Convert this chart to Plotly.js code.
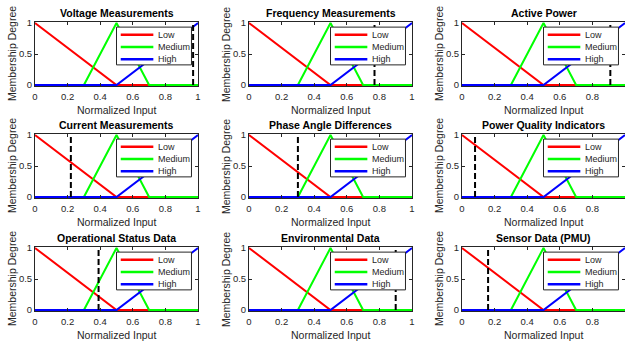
<!DOCTYPE html>
<html><head><meta charset="utf-8">
<script src="https://cdn.plot.ly/plotly-3.0.1.min.js"></script>
<style>html,body{margin:0;padding:0;background:#fff;overflow:hidden}#chart{width:625px;height:343px;}</style>
</head><body><div id="chart"></div>
<script>
// ---- data ----
const panelTitles = ['Voltage Measurements','Frequency Measurements','Active Power',
  'Current Measurements','Phase Angle Differences','Power Quality Indicators',
  'Operational Status Data','Environmental Data','Sensor Data (PMU)'];
const inputValues = [0.97, 0.77, 0.91, 0.22, 0.30, 0.08, 0.39, 0.90, 0.16];
const lowX = [0, 0.5, 1],            lowY = [1, 0, 0];
const medX = [0, 0.3, 0.5, 0.7, 1],  medY = [0, 0, 1, 0, 0];
const highX = [0, 0.5, 1],           highY = [0, 0, 1];
const setNames = ['Low', 'Medium', 'High'];
const xTickVals = [0, 0.2, 0.4, 0.6, 0.8, 1];
const xTickText = ['0', '0.2', '0.4', '0.6', '0.8', '1'];
const yTickVals = [0, 0.5, 1];
const yTickText = ['0', '0.5', '1'];
const xAxisLabel = 'Normalized Input';
const yAxisLabel = 'Membership Degree';

// ---- styling / layout ----
const W = 625, H = 343;
const colLeft = [35, 249, 462], plotW = 163;
const rowTop = [22, 134, 247], plotH = 64;
const colors = ['#ff0000', '#00ff00', '#0000ff'];
const font = 'Liberation Sans, Arial, Helvetica, sans-serif';
const axisCol = '#262626';

const data = [], shapes = [], annotations = [];
const layout = {
  width: W, height: H, margin: {l: 0, r: 0, t: 0, b: 0},
  paper_bgcolor: '#fff', plot_bgcolor: '#fff', showlegend: false,
  font: {family: font, size: 9.5, color: axisCol}
};
const seriesX = [lowX, medX, highX], seriesY = [lowY, medY, highY];

panelTitles.forEach((title, i) => {
  const r = Math.floor(i / 3), c = i % 3;
  const n = i === 0 ? '' : String(i + 1);
  const xa = 'x' + n, ya = 'y' + n;
  layout['xaxis' + n] = {
    domain: [colLeft[c] / W, Math.min(1, (colLeft[c] + plotW) / W)],
    anchor: ya, range: [0, 1], tickvals: xTickVals, ticktext: xTickText,
    ticks: 'inside', ticklen: 3, tickcolor: axisCol, showline: true, linecolor: axisCol,
    linewidth: 1, mirror: 'ticks', showgrid: false, zeroline: false, ticklabelstandoff: 2,
    tickfont: {size: 9.5, color: axisCol, family: font}, fixedrange: true
  };
  layout['yaxis' + n] = {
    domain: [1 - (rowTop[r] + plotH) / H, 1 - rowTop[r] / H],
    anchor: xa, range: [-0.015, 1.015], tickvals: yTickVals, ticktext: yTickText,
    ticks: 'inside', ticklen: 3, tickcolor: axisCol, showline: true, linecolor: axisCol,
    linewidth: 1, mirror: 'ticks', showgrid: false, zeroline: false,
    tickfont: {size: 9.5, color: axisCol, family: font}, fixedrange: true
  };
  for (let k = 0; k < 3; k++) {
    data.push({x: seriesX[k], y: seriesY[k], xaxis: xa, yaxis: ya, type: 'scatter',
      mode: 'lines', name: setNames[k], line: {color: colors[k], width: 2}, hoverinfo: 'skip'});
  }
  data.push({x: [inputValues[i], inputValues[i]], y: [0, 1], xaxis: xa, yaxis: ya,
    type: 'scatter', mode: 'lines', line: {color: '#000', width: 2, dash: '6px,3px'},
    hoverinfo: 'skip', name: 'Input'});

  const xd = xa + ' domain', yd = ya + ' domain';
  // legend box
  shapes.push({type: 'rect', xref: xd, yref: yd, x0: 0.50, x1: 0.96, y0: 0.33, y1: 0.92,
    fillcolor: '#fff', line: {color: axisCol, width: 1}, layer: 'above'});
  const entryY = [0.80, 0.61, 0.417];
  for (let k = 0; k < 3; k++) {
    shapes.push({type: 'line', xref: xd, yref: yd, x0: 0.526, x1: 0.726, y0: entryY[k], y1: entryY[k],
      line: {color: colors[k], width: 2.5}, layer: 'above'});
    annotations.push({text: setNames[k], xref: xd, yref: yd, x: 0.742, y: entryY[k],
      xanchor: 'left', yanchor: 'middle', showarrow: false, font: {size: 9, color: axisCol, family: font}});
  }
  annotations.push({text: '<b>' + title + '</b>', xref: xd, yref: yd, x: 0.5, y: 1, yshift: 9,
    xanchor: 'center', yanchor: 'middle', showarrow: false, font: {size: 10.5, color: '#000', family: font}});
  annotations.push({text: xAxisLabel, xref: xd, yref: yd, x: 0.5, y: 0, yshift: -24,
    xanchor: 'center', yanchor: 'middle', showarrow: false, font: {size: 10.5, color: axisCol, family: font}});
  annotations.push({text: yAxisLabel, xref: xd, yref: yd, x: 0, y: 0.5, xshift: -23, textangle: -90,
    xanchor: 'center', yanchor: 'middle', showarrow: false, font: {size: 10.5, color: axisCol, family: font}});
});
layout.shapes = shapes;
layout.annotations = annotations;
Plotly.newPlot('chart', data, layout, {staticPlot: true, displayModeBar: false});
</script></body></html>
